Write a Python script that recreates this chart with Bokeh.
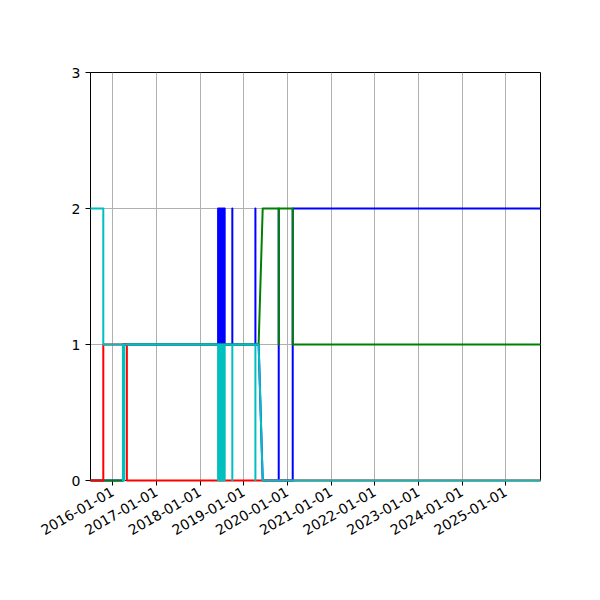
import math

import pandas as pd
from bokeh.embed import file_html
from bokeh.models import DatetimeTickFormatter, FixedTicker, Range1d
from bokeh.plotting import figure
from bokeh.resources import INLINE

# tick years on the date axis
tick_years = [2016, 2017, 2018, 2019, 2020, 2021, 2022, 2023, 2024, 2025]
y_ticks = [0, 1, 2, 3]
x_start = "2015-06-30"
x_end = "2025-10-18"

blue_dates = [
    "2015-06-30", "2016-03-28", "2016-03-28",
    "2018-06-01", "2018-06-01", "2018-06-01",
    "2018-06-08", "2018-06-08", "2018-06-08",
    "2018-06-15", "2018-06-15", "2018-06-15",
    "2018-06-22", "2018-06-22", "2018-06-22",
    "2018-06-29", "2018-06-29", "2018-06-29",
    "2018-07-06", "2018-07-06", "2018-07-06",
    "2018-07-13", "2018-07-13", "2018-07-13",
    "2018-07-20", "2018-07-20", "2018-07-20",
    "2018-07-26", "2018-07-26", "2018-07-26",
    "2018-09-28", "2018-09-28", "2018-09-28",
    "2019-04-09", "2019-04-09", "2019-04-09",
    "2019-05-06", "2019-06-09",
    "2019-10-21", "2019-10-21", "2019-10-21",
    "2020-02-15", "2020-02-15", "2025-10-18",
]
blue_values = [
    0, 0, 1,
    1, 2, 1,
    1, 2, 1,
    1, 2, 1,
    1, 2, 1,
    1, 2, 1,
    1, 2, 1,
    1, 2, 1,
    1, 2, 1,
    1, 2, 1,
    1, 2, 1,
    1, 2, 1,
    1, 0,
    0, 2, 0,
    0, 2, 2,
]

green_dates = [
    "2015-06-30", "2016-03-28", "2016-03-28",
    "2019-05-06", "2019-06-09",
    "2019-10-21", "2019-10-21", "2019-10-21",
    "2020-02-15", "2020-02-15", "2025-10-18",
]
green_values = [0, 0, 1, 1, 2, 2, 1, 2, 2, 1, 1]

red_dates = [
    "2015-06-30", "2015-10-15", "2015-10-15",
    "2016-04-29", "2016-04-29", "2025-10-18",
]
red_values = [0, 0, 1, 1, 0, 0]

cyan_dates = [
    "2015-06-30", "2015-10-15", "2015-10-15",
    "2016-03-27", "2016-03-27", "2016-04-07", "2016-04-07",
    "2018-06-01", "2018-06-01", "2018-06-01",
    "2018-06-08", "2018-06-08", "2018-06-08",
    "2018-06-15", "2018-06-15", "2018-06-15",
    "2018-06-22", "2018-06-22", "2018-06-22",
    "2018-06-29", "2018-06-29", "2018-06-29",
    "2018-07-06", "2018-07-06", "2018-07-06",
    "2018-07-13", "2018-07-13", "2018-07-13",
    "2018-07-20", "2018-07-20", "2018-07-20",
    "2018-07-26", "2018-07-26", "2018-07-26",
    "2018-09-28", "2018-09-28", "2018-09-28",
    "2019-04-09", "2019-04-09", "2019-04-09",
    "2019-05-06", "2019-06-09", "2025-10-18",
]
cyan_values = [
    2, 2, 1,
    1, 0, 0, 1,
    1, 0, 1,
    1, 0, 1,
    1, 0, 1,
    1, 0, 1,
    1, 0, 1,
    1, 0, 1,
    1, 0, 1,
    1, 0, 1,
    1, 0, 1,
    1, 0, 1,
    1, 0, 1,
    1, 0, 0,
]

series = [
    (blue_dates, blue_values, "#0000ff"),
    (green_dates, green_values, "#008000"),
    (red_dates, red_values, "#ff0000"),
    (cyan_dates, cyan_values, "#00bfbf"),
]

p = figure(x_axis_type="datetime", frame_width=450, frame_height=408,
           min_border_left=90, min_border_right=52, min_border_top=72, min_border_bottom=112,
           x_range=Range1d(pd.Timestamp(x_start), pd.Timestamp(x_end)),
           y_range=Range1d(0, 3),
           output_backend="svg", toolbar_location=None)
p.outline_line_color = "black"
p.outline_line_alpha = 1.0
p.outline_line_width = 1
p.background_fill_color = "white"
p.border_fill_color = "white"

# lines drawn above the frame edge, like the reference where they sit over the spine
for dates, values, color in series:
    p.line(pd.to_datetime(dates), values, line_color=color, line_width=2,
           line_join="round", level="overlay")

tick_ms = [pd.Timestamp(f"{y}-01-01").value // 10**6 for y in tick_years]
p.xaxis.ticker = FixedTicker(ticks=tick_ms)
fmt = "%Y-%m-%d"
p.xaxis.formatter = DatetimeTickFormatter(years=fmt, months=fmt, days=fmt, hours=fmt,
                                          minutes=fmt, seconds=fmt, milliseconds=fmt)
p.xaxis.major_label_orientation = math.pi / 6
p.yaxis.ticker = FixedTicker(ticks=y_ticks)

for ax in (p.xaxis, p.yaxis):
    ax.major_tick_in = 0
    ax.major_tick_out = 5
    ax.minor_tick_line_color = None
    ax.axis_line_color = "black"
    ax.major_tick_line_color = "black"
    ax.major_label_text_font = "DejaVu Sans"
    ax.major_label_text_font_size = "14px"
    ax.major_label_text_color = "black"
    ax.major_label_standoff = 5

p.grid.grid_line_color = "#b0b0b0"
p.grid.grid_line_width = 1
p.grid.grid_line_alpha = 1.0

open("out.html", "w").write(file_html(p, INLINE))
